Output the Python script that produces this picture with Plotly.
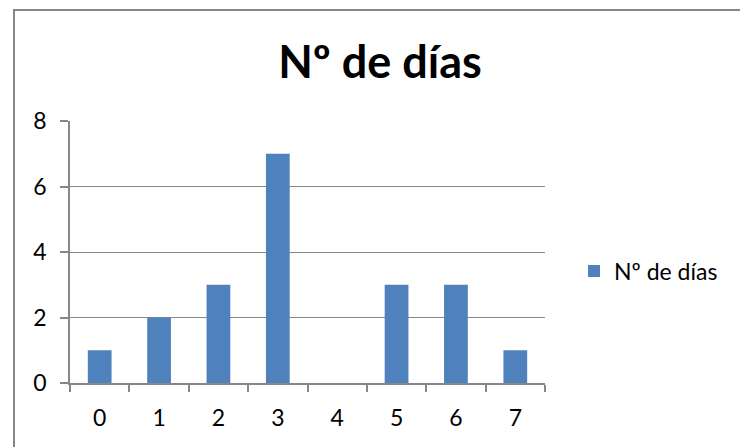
import plotly.graph_objects as go

# Frequency table: number of days per category
categories = ["0", "1", "2", "3", "4", "5", "6", "7"]
counts = [1, 2, 3, 7, 0, 3, 3, 1]
series_name = "Nº de días"
y_ticks = [0, 2, 4, 6, 8]

W, H = 740, 447
L, R, T, B = 70, 195, 121, 64
plot_w = W - L - R
plot_h = H - T - B

def px_to_paper_x(px):
    return (px - L) / plot_w

def px_to_paper_y(py):
    return (H - B - py) / plot_h

font_family = "Lato, 'Open Sans', sans-serif"
grid_color = "#878787"

fig = go.Figure()
fig.add_trace(go.Bar(
    x=categories,
    y=counts,
    name=series_name,
    marker=dict(color="#4F81BD", line=dict(width=0)),
    width=0.4,
    showlegend=True,
))

fig.update_layout(
    width=W,
    height=H,
    margin=dict(l=L, r=R, t=T, b=B, pad=0),
    paper_bgcolor="white",
    plot_bgcolor="white",
    font=dict(family=font_family, size=23, color="#000000"),
    title=dict(
        text="<b>Nº de días</b>",
        x=380 / W,
        xanchor="center",
        xref="container",
        y=1 - 62 / H,
        yanchor="middle",
        yref="container",
        font=dict(family=font_family, size=45, color="#000000"),
    ),
    showlegend=True,
    legend=dict(
        x=px_to_paper_x(574),
        y=px_to_paper_y(271),
        xanchor="left",
        yanchor="middle",
        font=dict(family=font_family, size=23, color="#000000"),
        bgcolor="rgba(0,0,0,0)",
        itemwidth=30,
    ),
    bargap=0.6,
    xaxis=dict(
        type="category",
        showgrid=False,
        showline=True,
        linecolor=grid_color,
        linewidth=1.5,
        ticks="outside",
        tickson="boundaries",
        ticklen=7,
        tickwidth=1.5,
        tickcolor=grid_color,
        tickfont=dict(size=23),
        zeroline=False,
        ticklabelstandoff=14,
    ),
    yaxis=dict(
        range=[0, 8],
        tickvals=y_ticks,
        showgrid=True,
        gridcolor=grid_color,
        gridwidth=1.3,
        showline=True,
        linecolor=grid_color,
        linewidth=1.5,
        ticks="outside",
        ticklen=8,
        tickwidth=1.5,
        tickcolor=grid_color,
        tickfont=dict(size=23),
        zeroline=False,
        ticklabelstandoff=9,
    ),
)

# Chart-area frame (top and left edges visible, the rest runs off the page)
fig.add_shape(
    type="rect",
    xref="paper", yref="paper",
    x0=px_to_paper_x(14), x1=px_to_paper_x(W + 20),
    y0=px_to_paper_y(H + 20), y1=px_to_paper_y(10),
    line=dict(color="#868686", width=2),
    fillcolor="rgba(0,0,0,0)",
    layer="below",
)

fig.write_html("out.html")
